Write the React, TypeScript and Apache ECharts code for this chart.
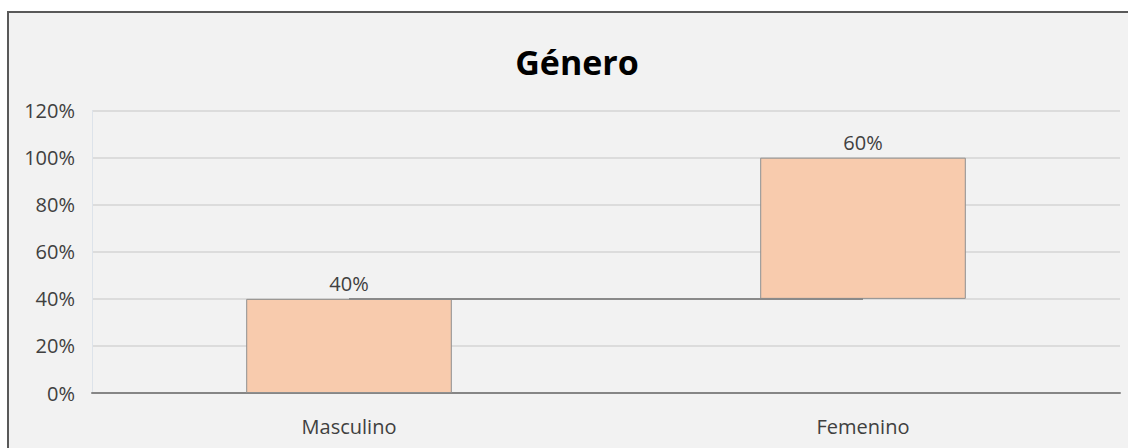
import React, { useEffect, useRef } from "react";
import * as echarts from "echarts";

const TITLE = "Género";
const categories: string[] = ["Masculino", "Femenino"];
const values: number[] = [40, 60];
const yTicks = { min: 0, max: 120, interval: 20 };

export default function App() {
  const ref = useRef<HTMLDivElement | null>(null);

  useEffect(() => {
    document.body.style.overflow = "hidden";
    if (!ref.current) return;
    const chart = echarts.init(ref.current, null, { renderer: "svg" });

    // waterfall bases: cumulative sum of previous values
    const bases: number[] = [];
    let acc = 0;
    for (const v of values) {
      bases.push(acc);
      acc += v;
    }

    const font = "'Open Sans', 'Noto Sans', sans-serif";

    chart.setOption({
      animation: false,
      backgroundColor: "transparent",
      textStyle: { fontFamily: font },
      title: {
        text: TITLE,
        left: 563,
        textAlign: "center",
        top: 26,
        textStyle: {
          fontFamily: font,
          fontSize: 34,
          fontWeight: "bold",
          color: "#000000",
          lineHeight: 36,
        },
      },
      grid: { left: 83, right: 8, top: 97.6, bottom: 55, containLabel: false },
      xAxis: {
        type: "category",
        data: categories,
        axisTick: { show: false },
        axisLine: { show: true, lineStyle: { color: "#868686", width: 2 } },
        axisLabel: {
          color: "#404040",
          fontSize: 20,
          fontFamily: font,
          margin: 23,
        },
        splitLine: { show: false },
      },
      yAxis: {
        type: "value",
        min: yTicks.min,
        max: yTicks.max,
        interval: yTicks.interval,
        axisLine: { show: true, lineStyle: { color: "#dde3ea", width: 1 } },
        axisTick: { show: false },
        axisLabel: {
          formatter: "{value}%",
          color: "#404040",
          fontSize: 20,
          fontFamily: font,
          margin: 17,
        },
        splitLine: { show: true, lineStyle: { color: "#d4d4d4", width: 1.5 } },
      },
      series: [
        {
          name: "base",
          type: "bar",
          stack: "wf",
          data: bases,
          barWidth: "40%",
          z: 1,
          itemStyle: { color: "transparent", borderColor: "transparent" },
          emphasis: { disabled: true },
          markLine: {
            symbol: "none",
            silent: true,
            label: { show: false },
            lineStyle: { color: "#8a8a8a", width: 2, type: "solid" },
            data: [
              [
                { coord: [categories[0], bases[0] + values[0]] },
                { coord: [categories[1], bases[1]] },
              ],
            ],
          },
        },
        {
          name: TITLE,
          type: "bar",
          stack: "wf",
          data: values,
          barWidth: "40%",
          z: 2,
          itemStyle: { color: "#f8cbad", borderColor: "#8f8f8f", borderWidth: 1 },
          label: {
            show: true,
            position: "top",
            distance: 5,
            formatter: "{c}%",
            color: "#404040",
            fontSize: 20,
            fontFamily: font,
          },
        },
      ],
    });

    return () => chart.dispose();
  }, []);

  return (
    <div
      style={{
        position: "absolute",
        left: 7,
        top: 11,
        width: 1121,
        height: 437,
        boxSizing: "border-box",
        borderLeft: "2px solid #595959",
        borderTop: "2px solid #595959",
        background: "#f2f2f2",
      }}
    >
      <div ref={ref} style={{ width: 1119, height: 435 }} />
    </div>
  );
}
